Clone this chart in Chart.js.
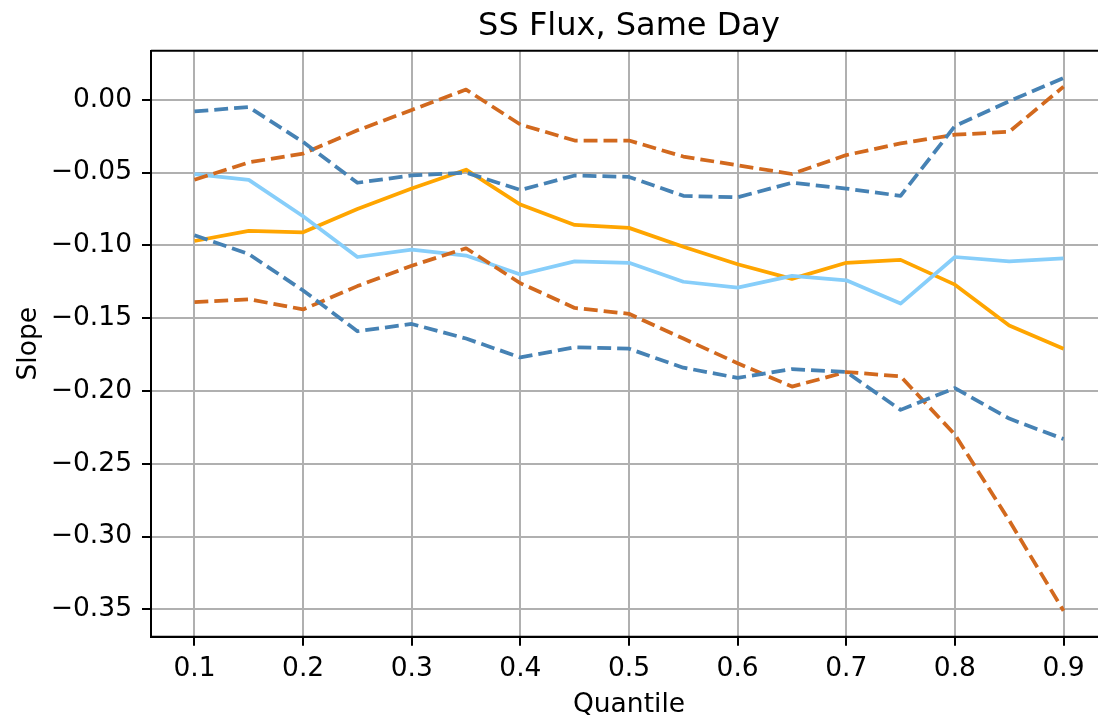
<!DOCTYPE html>
<html>
<head>
<meta charset="utf-8">
<script src="https://cdn.jsdelivr.net/npm/chart.js@4/dist/chart.umd.min.js"></script>
<style>
  html, body { margin: 0; padding: 0; background: #fff; overflow: hidden; width: 1098px; height: 721px; }
  canvas { display: block; }
</style>
</head>
<body>
<canvas id="c" width="1107" height="721"></canvas>
<script>
// ---- data ----
const quantiles = [0.1, 0.15, 0.2, 0.25, 0.3, 0.35, 0.4, 0.45, 0.5, 0.55, 0.6, 0.65, 0.7, 0.75, 0.8, 0.85, 0.9];
const upperBlue   = [-0.008, -0.005, -0.029, -0.057, -0.052, -0.050, -0.062, -0.052, -0.053, -0.066, -0.067, -0.057, -0.061, -0.066, -0.018, -0.001, 0.015];
const upperOrange = [-0.055, -0.043, -0.037, -0.021, -0.007, 0.007, -0.017, -0.028, -0.028, -0.039, -0.045, -0.051, -0.038, -0.030, -0.024, -0.022, 0.009];
const lightBlue   = [-0.051, -0.055, -0.080, -0.108, -0.103, -0.107, -0.120, -0.111, -0.112, -0.125, -0.129, -0.121, -0.124, -0.140, -0.108, -0.111, -0.109];
const orangeSolid = [-0.097, -0.090, -0.091, -0.075, -0.061, -0.048, -0.072, -0.086, -0.088, -0.101, -0.113, -0.123, -0.112, -0.110, -0.127, -0.155, -0.171];
const lowerBlue   = [-0.093, -0.106, -0.131, -0.159, -0.154, -0.164, -0.177, -0.170, -0.171, -0.184, -0.191, -0.185, -0.187, -0.213, -0.198, -0.219, -0.233];
const lowerOrange = [-0.139, -0.137, -0.144, -0.128, -0.114, -0.102, -0.126, -0.143, -0.147, -0.164, -0.181, -0.197, -0.187, -0.190, -0.230, -0.289, -0.351];

const xTicks = [0.1, 0.2, 0.3, 0.4, 0.5, 0.6, 0.7, 0.8, 0.9];
const yTicks = [-0.35, -0.30, -0.25, -0.20, -0.15, -0.10, -0.05, 0.00];
const xRange = [0.06, 0.94];
const yRange = [-0.3688, 0.0337];

const titleText = 'SS Flux, Same Day';
const xTitle = 'Quantile';
const yTitle = 'Slope';

// ---- chart ----
const FONT = 'DejaVu Sans';
const TICK_SIZE = 26.5;
const LW = 3.75;
const DASH = [3.7 * LW, 1.6 * LW];

function series(vals) { return quantiles.map((q, i) => ({ x: q, y: vals[i] })); }
function mk(vals, color, dashed) {
  return {
    data: series(vals), borderColor: color, backgroundColor: color,
    borderWidth: LW, borderDash: dashed ? DASH : [], pointRadius: 0,
    tension: 0, fill: false, borderCapStyle: 'butt', borderJoinStyle: 'round'
  };
}

const frame = {
  id: 'frame',
  afterDatasetsDraw(chart) {
    const { ctx, chartArea: a } = chart;
    ctx.save();
    ctx.strokeStyle = '#000';
    ctx.lineWidth = 2;
    ctx.beginPath();
    ctx.moveTo(a.left, a.top); ctx.lineTo(a.right + 5, a.top);
    ctx.moveTo(a.left, a.top); ctx.lineTo(a.left, a.bottom);
    ctx.lineTo(a.right + 5, a.bottom);
    ctx.stroke();
    // axes title, centred over the plot area
    ctx.fillStyle = '#000';
    ctx.font = '32px "' + FONT + '"';
    ctx.textAlign = 'center';
    ctx.textBaseline = 'alphabetic';
    ctx.fillText(titleText, (a.left + a.right) / 2, 35);
    ctx.restore();
  }
};

const fmtY = v => (v < -1e-9 ? '\u2212' : '') + Math.abs(v).toFixed(2);

new Chart(document.getElementById('c'), {
  type: 'line',
  data: {
    datasets: [
      mk(upperBlue, '#4682B4', true),
      mk(lowerBlue, '#4682B4', true),
      mk(upperOrange, '#D2691E', true),
      mk(lowerOrange, '#D2691E', true),
      mk(lightBlue, '#87CEFA', false),
      mk(orangeSolid, '#FFA500', false)
    ]
  },
  options: {
    responsive: false,
    animation: false,
    devicePixelRatio: 1,
    layout: { padding: { top: 50.7, left: 0, right: 0, bottom: 0 } },
    plugins: {
      legend: { display: false },
      tooltip: { enabled: false },
      title: { display: false }
    },
    scales: {
      x: {
        type: 'linear', min: xRange[0], max: xRange[1],
        afterBuildTicks: s => { s.ticks = xTicks.map(v => ({ value: v })); },
        afterFit: s => { s.height = 84.3; },
        ticks: { color: '#000', font: { family: FONT, size: TICK_SIZE }, padding: 8, maxRotation: 0, autoSkip: false,
                 callback: v => v.toFixed(1) },
        grid: { color: '#b0b0b0', lineWidth: 2, tickColor: '#000', tickWidth: 2, tickLength: 9 },
        border: { color: '#000', width: 2 },
        title: { display: true, text: xTitle, color: '#000', font: { family: FONT, size: TICK_SIZE }, padding: { top: 0, bottom: 0 } }
      },
      y: {
        type: 'linear', min: yRange[0], max: yRange[1],
        afterBuildTicks: s => { s.ticks = yTicks.map(v => ({ value: v })); },
        afterFit: s => { s.width = 151; },
        ticks: { color: '#000', font: { family: FONT, size: TICK_SIZE }, padding: 10, autoSkip: false,
                 callback: v => fmtY(v) },
        grid: { color: '#b0b0b0', lineWidth: 2, tickColor: '#000', tickWidth: 2, tickLength: 9 },
        border: { color: '#000', width: 2 },
        title: { display: true, text: yTitle, color: '#000', font: { family: FONT, size: TICK_SIZE }, padding: { top: 13, bottom: 0 } }
      }
    }
  },
  plugins: [frame]
});
</script>
</body>
</html>
